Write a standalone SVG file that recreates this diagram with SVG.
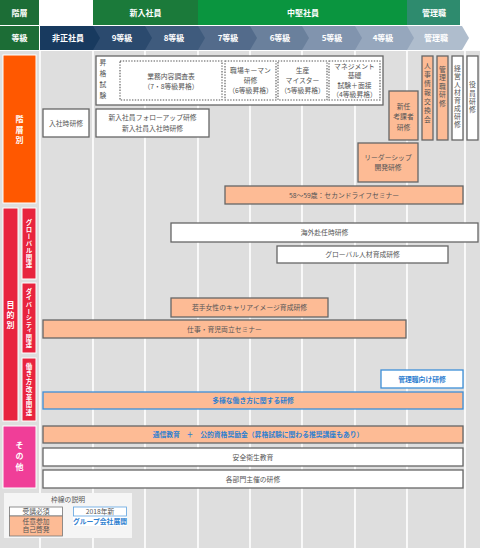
<svg xmlns="http://www.w3.org/2000/svg" width="480" height="550" viewBox="0 0 480 550">
<style>
text{font-family:"Noto Sans CJK JP","Noto Sans",sans-serif;}
.hd{fill:#fff;font-size:8px;font-weight:bold;text-anchor:middle;}
.t{fill:#555;font-size:6.8px;text-anchor:middle;}
.tb{fill:#2f80d0;font-size:6.8px;text-anchor:middle;font-weight:bold;}
.v{writing-mode:vertical-rl;text-anchor:middle;}
.w{fill:#fff;stroke:#666;stroke-width:1.3;}
.o{fill:#fdbb95;stroke:#666;stroke-width:1.3;}
.wb{fill:#fff;stroke:#3d8fd8;stroke-width:1.3;}
.ob{fill:#fdbb95;stroke:#3d8fd8;stroke-width:1.3;}
.d{fill:none;stroke:#555;stroke-width:1.1;stroke-dasharray:1.4 1.4;}
.cat{fill:#fff;font-weight:bold;}
.col{stroke:#fff;stroke-width:1.6;}
</style>
<rect x="0" y="0" width="480" height="550" fill="#fff"/>
<g id="header">
  <rect x="0" y="0" width="39" height="25" fill="#1c6d36"/>
  <text class="hd" x="19.5" y="15.5">階層</text>
  <rect x="93" y="0" width="105" height="25" fill="#1b7a3a"/>
  <text class="hd" x="145.5" y="15.5">新入社員</text>
  <rect x="198" y="0" width="209" height="25" fill="#0a953f"/>
  <text class="hd" x="303" y="15.5">中堅社員</text>
  <rect x="407" y="0" width="53" height="25" fill="#2e8b6e"/>
  <text class="hd" x="434" y="15.5">管理職</text>
  <rect x="0" y="26" width="39" height="24" fill="#1c6d36"/>
  <text class="hd" x="19.5" y="41">等級</text>
  <polygon points="407,26 462,26 469,38 462,50 407,50" fill="#afbdcd"/>
  <polygon points="355,26 407,26 414,38 407,50 355,50" fill="#96a7bd"/>
  <polygon points="302,26 355,26 362,38 355,50 302,50" fill="#8194ae"/>
  <polygon points="250,26 302,26 309,38 302,50 250,50" fill="#6a809c"/>
  <polygon points="198,26 250,26 257,38 250,50 198,50" fill="#536b8b"/>
  <polygon points="145,26 198,26 205,38 198,50 145,50" fill="#3f5b7d"/>
  <polygon points="93,26 145,26 152,38 145,50 93,50" fill="#2b4a6e"/>
  <polygon points="40,26 93,26 100,38 93,50 40,50" fill="#183a5f"/>
  <text class="hd" x="68" y="41">非正社員</text>
  <text class="hd" x="122" y="41">9等級</text>
  <text class="hd" x="174" y="41">8等級</text>
  <text class="hd" x="228" y="41">7等級</text>
  <text class="hd" x="280" y="41">6等級</text>
  <text class="hd" x="332" y="41">5等級</text>
  <text class="hd" x="383" y="41">4等級</text>
  <text class="hd" x="436" y="41">管理職</text>
</g>
<g id="grid">
  <rect x="0" y="51" width="480" height="497" fill="#dedede"/>
  <line class="col" x1="40" y1="51" x2="40" y2="548"/>
  <line class="col" x1="93" y1="51" x2="93" y2="548"/>
  <line class="col" x1="145" y1="51" x2="145" y2="548"/>
  <line class="col" x1="198" y1="51" x2="198" y2="548"/>
  <line class="col" x1="250" y1="51" x2="250" y2="548"/>
  <line class="col" x1="302" y1="51" x2="302" y2="548"/>
  <line class="col" x1="355" y1="51" x2="355" y2="548"/>
  <line class="col" x1="407" y1="51" x2="407" y2="548"/>
  <line class="col" x1="465" y1="51" x2="465" y2="548"/>
</g>
<g id="categories">
  <rect x="3" y="55" width="33" height="148" fill="#ff5800" stroke="#fff" stroke-width="1"/>
  <text class="cat v" x="19.5" y="131" font-size="8" letter-spacing="2.5">階層別</text>
  <rect x="3" y="208" width="15" height="213" fill="#e8243e" stroke="#fff" stroke-width="1"/>
  <text class="cat v" x="10.5" y="316" font-size="8" letter-spacing="2">目的別</text>
  <rect x="22" y="208" width="14" height="71" fill="#e8243e" stroke="#fff" stroke-width="1"/>
  <text class="cat v" x="29" y="244" font-size="6.5" letter-spacing="0.6">グローバル関連</text>
  <rect x="22" y="283" width="14" height="70" fill="#e8243e" stroke="#fff" stroke-width="1"/>
  <text class="cat v" x="29" y="318" font-size="6.3" letter-spacing="0.3">ダイバーシティ関連</text>
  <rect x="22" y="358" width="14" height="63" fill="#e8243e" stroke="#fff" stroke-width="1"/>
  <text class="cat v" x="29" y="390" font-size="6.5" letter-spacing="1.2">働き方改革関連</text>
  <rect x="3" y="426" width="33" height="62" fill="#f03e98" stroke="#fff" stroke-width="1"/>
  <text class="cat v" x="19.5" y="457" font-size="8" letter-spacing="3">その他</text>
</g>
<g id="connectors"></g>
<g id="exam">
  <rect class="w" x="96" y="56" width="287" height="49"/>
  <text class="t v" x="103" y="81" letter-spacing="4">昇格試験</text>
  <rect class="d" x="120" y="61" width="102" height="39"/>
  <text class="t" x="171" y="78.5">業務内容調査表</text>
  <text class="t" x="171" y="88.5">（7・8等級昇格）</text>
  <rect class="d" x="225" y="61" width="51" height="39"/>
  <text class="t" x="250.5" y="73">職場キーマン</text>
  <text class="t" x="250.5" y="83">研修</text>
  <text class="t" x="250.5" y="93">（6等級昇格）</text>
  <rect class="d" x="278" y="61" width="49" height="39"/>
  <text class="t" x="302.5" y="73">生産</text>
  <text class="t" x="302.5" y="83">マイスター</text>
  <text class="t" x="302.5" y="93">（5等級昇格）</text>
  <rect class="d" x="329" y="61" width="51" height="39"/>
  <text class="t" x="354.5" y="68.5">マネジメント</text>
  <text class="t" x="354.5" y="78">基礎</text>
  <text class="t" x="354.5" y="87.5">試験＋面接</text>
  <text class="t" x="354.5" y="97">（4等級昇格）</text>
</g>
<g id="n-nyusha">
  <rect class="w" x="43" y="109" width="46" height="28"/>
  <text class="t" x="66" y="125.5">入社時研修</text>
</g>
<g id="n-followup">
  <rect class="w" x="96" y="109" width="113" height="28"/>
  <text class="t" x="152.5" y="120">新入社員フォローアップ研修</text>
  <text class="t" x="152.5" y="130.5">新入社員入社時研修</text>
</g>
<g id="n-koka">
  <rect class="o" x="389" y="91" width="29" height="49"/>
  <text class="t" x="403.5" y="108.5">新任</text>
  <text class="t" x="403.5" y="119">考課者</text>
  <text class="t" x="403.5" y="129.5">研修</text>
</g>
<g id="n-jinji">
  <rect class="o" x="422" y="56" width="11" height="84"/>
  <text class="t v" x="427.5" y="94" letter-spacing="2.2">人事情報交換会</text>
</g>
<g id="n-kanri">
  <rect class="o" x="437" y="56" width="11" height="84"/>
  <text class="t v" x="442.5" y="87" letter-spacing="1.6">管理職研修</text>
</g>
<g id="n-keiei">
  <rect class="w" x="452" y="56" width="11" height="84"/>
  <text class="t v" x="457.5" y="97" letter-spacing="1.2">経営人材育成研修</text>
</g>
<g id="n-yakuin">
  <rect class="w" x="467" y="56" width="11" height="84"/>
  <text class="t v" x="472.5" y="98" letter-spacing="1.6">役員研修</text>
</g>
<g id="n-leader">
  <rect class="o" x="358" y="143" width="60" height="39"/>
  <text class="t" x="388" y="159.5">リーダーシップ</text>
  <text class="t" x="388" y="170">開発研修</text>
</g>
<g id="n-second">
  <rect class="o" x="225" y="186" width="238" height="18"/>
  <text class="t" x="344" y="197.5">58～59歳：セカンドライフセミナー</text>
</g>
<g id="n-kaigai">
  <rect class="w" x="171" y="223" width="307" height="19"/>
  <text class="t" x="324.5" y="235">海外赴任時研修</text>
</g>
<g id="n-global">
  <rect class="w" x="277" y="246" width="171" height="17"/>
  <text class="t" x="362.5" y="257">グローバル人材育成研修</text>
</g>
<g id="n-josei">
  <rect class="o" x="171" y="298" width="157" height="19"/>
  <text class="t" x="249.5" y="310">若手女性のキャリアイメージ育成研修</text>
</g>
<g id="n-ikuji">
  <rect class="o" x="43" y="320" width="363" height="18"/>
  <text class="t" x="224.5" y="331.5">仕事・育児両立セミナー</text>
</g>
<g id="n-kanrimuke">
  <rect class="wb" x="381" y="370" width="82" height="18"/>
  <text class="tb" x="422" y="381.5">管理職向け研修</text>
</g>
<g id="n-tayou">
  <rect class="ob" x="43" y="392" width="420" height="17"/>
  <text class="tb" x="253" y="403">多様な働き方に関する研修</text>
</g>
<g id="n-tsushin">
  <rect class="o" x="43" y="426" width="420" height="17"/>
  <text class="tb" x="258" y="437">通信教育　＋　公的資格奨励金（昇格試験に関わる推奨講座もあり）</text>
</g>
<g id="n-anzen">
  <rect class="w" x="43" y="448" width="420" height="18"/>
  <text class="t" x="253" y="459.5">安全衛生教育</text>
</g>
<g id="n-bumon">
  <rect class="w" x="43" y="470" width="420" height="18"/>
  <text class="t" x="253" y="481.5">各部門主催の研修</text>
</g>
<g id="legend">
  <rect x="4" y="493" width="128" height="45" fill="#f5f5f5"/>
  <text class="t" x="68" y="502" font-size="5.5">枠線の説明</text>
  <rect x="9.5" y="507" width="53" height="9" fill="#fff" stroke="#777" stroke-width="0.8"/>
  <text class="t" x="36" y="514" font-size="5.5">受講必須</text>
  <rect x="9.5" y="516" width="53" height="20" fill="#fdbb95" stroke="#777" stroke-width="0.8"/>
  <text class="t" x="36" y="523.5" font-size="5.5">任意参加</text>
  <text class="t" x="36" y="532" font-size="5.5">自己啓発</text>
  <rect x="73" y="516" width="54" height="10" fill="#fff"/>
  <rect x="73.5" y="507" width="53" height="9" fill="#fff" stroke="#5fa4e0" stroke-width="0.8"/>
  <text class="t" x="100" y="514" font-size="5.5">2018年新</text>
  <text class="tb" x="100" y="523.5" font-size="5.5">グループ会社展開</text>
</g>
</svg>
